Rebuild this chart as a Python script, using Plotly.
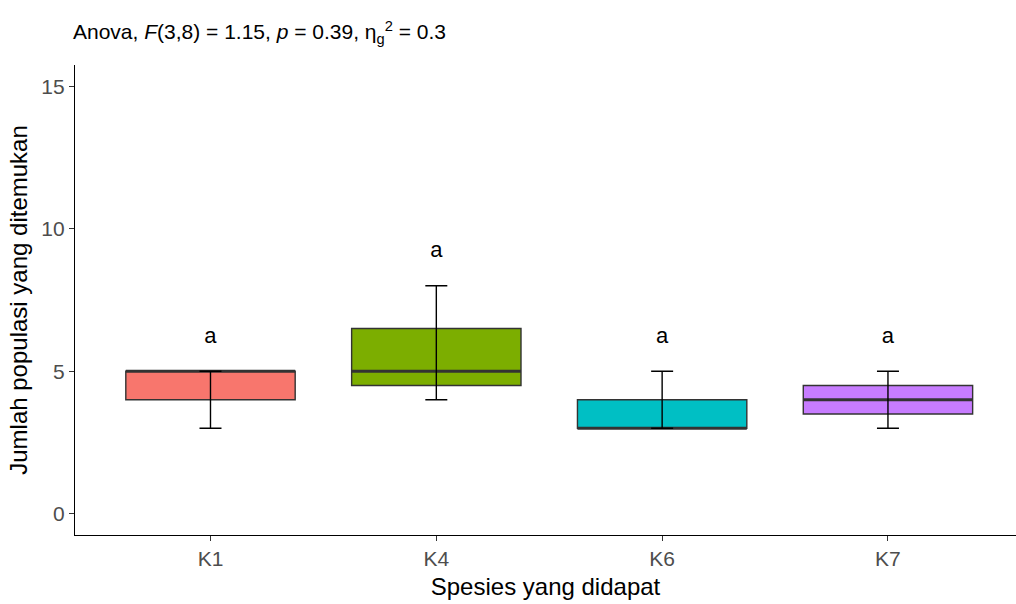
import numpy as np
import plotly.graph_objects as go

# Group summaries (three observations per species group)
species = ["K1", "K4", "K6", "K7"]
minimum = [3, 4, 3, 3]
q1 = [4, 4.5, 3, 3.5]
median = [5, 5, 3, 4]
q3 = [5, 6.5, 4, 4.5]
maximum = [5, 8, 5, 5]
letters = ["a", "a", "a", "a"]
fills = ["#F8766D", "#7CAE00", "#00BFC4", "#C77CFF"]

xpos = np.arange(len(species))
box_w = 0.75
outline = "#333333"
font_family = "Liberation Sans, Arial"

fig = go.Figure()

# Interquartile boxes
fig.add_trace(go.Bar(
    x=xpos, y=np.array(q3) - np.array(q1), base=q1, width=box_w,
    marker=dict(color=fills, line=dict(color=outline, width=1.4)),
    hoverinfo="skip", showlegend=False,
))

# Median lines
for xi, m in zip(xpos, median):
    fig.add_trace(go.Scatter(
        x=[xi - box_w / 2, xi + box_w / 2], y=[m, m], mode="lines",
        line=dict(color=outline, width=3), hoverinfo="skip", showlegend=False,
    ))

# Min-max error bars
fig.add_trace(go.Scatter(
    x=xpos, y=median, mode="markers",
    marker=dict(size=1, opacity=0),
    error_y=dict(
        type="data", symmetric=False,
        array=np.array(maximum) - np.array(median),
        arrayminus=np.array(median) - np.array(minimum),
        color="black", thickness=1.4, width=11,
    ),
    hoverinfo="skip", showlegend=False,
))

# Significance letters above each group
fig.add_trace(go.Scatter(
    x=xpos, y=np.array(maximum) + 1.2, mode="text", text=letters,
    textfont=dict(family=font_family, size=22, color="black"),
    hoverinfo="skip", showlegend=False,
))

fig.update_layout(
    width=1016, height=604,
    margin=dict(l=75, r=0, t=65, b=69),
    plot_bgcolor="white", paper_bgcolor="white",
    font=dict(family=font_family, color="black"),
    title=dict(
        text="Anova, <i>F</i>(3,8) = 1.15, <i>p</i> = 0.39, η<sub>g</sub><sup>2</sup> = 0.3",
        x=73 / 1016, xanchor="left", y=1 - 32 / 604, yanchor="middle",
        font=dict(size=21, color="black"),
    ),
    xaxis=dict(
        range=[-0.6, 3.567], tickvals=xpos, ticktext=species,
        showline=True, linecolor="black", linewidth=1.4,
        ticks="outside", ticklen=5, tickcolor="#333333", tickwidth=1.2,
        tickfont=dict(size=21, color="#4D4D4D"), showgrid=False, zeroline=False,
        title=dict(text="Spesies yang didapat", font=dict(size=24, color="black"), standoff=8),
    ),
    yaxis=dict(
        range=[-0.75, 15.75], tickvals=[0, 5, 10, 15],
        showline=True, linecolor="black", linewidth=1.4,
        ticks="outside", ticklen=5, tickcolor="#333333", tickwidth=1.2,
        tickfont=dict(size=21, color="#4D4D4D"), showgrid=False, zeroline=False,
        title=dict(text="Jumlah populasi yang ditemukan", font=dict(size=24, color="black"), standoff=6),
    ),
)

fig.write_html("out.html")
